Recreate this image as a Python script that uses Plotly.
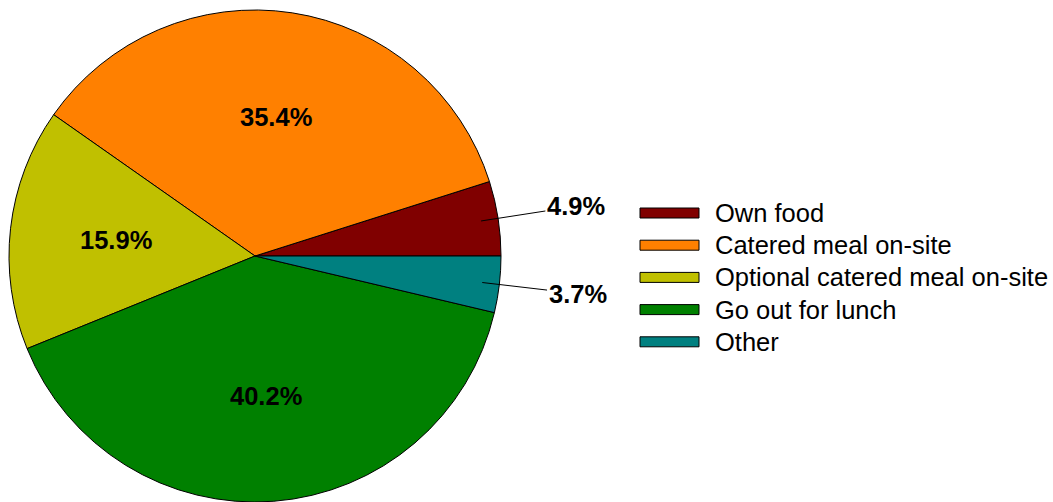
import math
import plotly.graph_objects as go

W, H = 1053, 502

categories = ["Own food", "Catered meal on-site", "Optional catered meal on-site",
              "Go out for lunch", "Other"]
shares = [4.9, 35.4, 15.9, 40.2, 3.7]
colors = ["#800000", "#FF8000", "#C0C000", "#008000", "#008080"]
outside = [True, False, False, False, True]

FONT = "Liberation Sans, Arial, sans-serif"

# pie geometry (px): domain box 492x492 -> radius 246, centre (255, 256)
X0, X1, Y0, Y1 = 9, 501, 10, 502
CX, CY, R = (X0 + X1) / 2, (Y0 + Y1) / 2, (X1 - X0) / 2
total = sum(shares)
# first slice starts at 3 o'clock and runs counterclockwise
rotation = 90 - 360 * shares[0] / total

fig = go.Figure()
fig.add_trace(go.Pie(
    labels=categories,
    values=shares,
    sort=False,
    direction="counterclockwise",
    rotation=rotation,
    marker=dict(colors=colors, line=dict(color="black", width=1)),
    textinfo="none",
    domain=dict(x=[X0 / W, X1 / W], y=[1 - Y1 / H, 1 - Y0 / H]),
    showlegend=False,
    hoverinfo="label+percent",
))

annotations, shapes = [], []
label_font = dict(family=FONT, size=25.5, color="black")
cum = 0.0
for v, o in zip(shares, outside):
    mid = (cum + v / 2) / total * 2 * math.pi
    cum += v
    c, s = math.cos(mid), math.sin(mid)
    if o:
        sx, sy = CX + 0.93 * R * c, CY - 0.93 * R * s
        tx, ty = CX + 1.32 * R * c, CY - 1.32 * R * s
        annotations.append(dict(
            xref="paper", yref="paper", x=sx / W, y=1 - sy / H,
            ax=tx - sx, ay=ty - sy, axref="pixel", ayref="pixel",
            text=f"<b>{v:.1f}%</b>", showarrow=True, arrowhead=0, arrowwidth=1,
            arrowcolor="black", standoff=0, font=label_font,
        ))
    else:
        tx, ty = CX + 0.57 * R * c, CY - 0.57 * R * s
        annotations.append(dict(
            xref="paper", yref="paper", x=tx / W, y=1 - ty / H,
            xanchor="center", yanchor="middle", showarrow=False,
            text=f"<b>{v:.1f}%</b>", font=label_font,
        ))

# custom legend (wide rectangular keys)
leg_x0, leg_x1, txt_x = 640, 699, 713
row_y0, row_dy = 213, 32.2
for i, (lab, col) in enumerate(zip(categories, colors)):
    cy = row_y0 + i * row_dy
    shapes.append(dict(type="rect", xref="paper", yref="paper",
                       x0=leg_x0 / W, x1=leg_x1 / W,
                       y0=1 - (cy + 5) / H, y1=1 - (cy - 5) / H,
                       fillcolor=col, line=dict(color="black", width=1)))
    annotations.append(dict(xref="paper", yref="paper", x=txt_x / W, y=1 - cy / H,
                            xanchor="left", yanchor="middle", showarrow=False,
                            text=lab, font=dict(family=FONT, size=25.5, color="black")))

fig.update_layout(
    width=W, height=H,
    margin=dict(l=0, r=0, t=0, b=0),
    paper_bgcolor="white", plot_bgcolor="white",
    shapes=shapes, annotations=annotations,
    font=dict(family=FONT),
)

fig.write_html("out.html")
